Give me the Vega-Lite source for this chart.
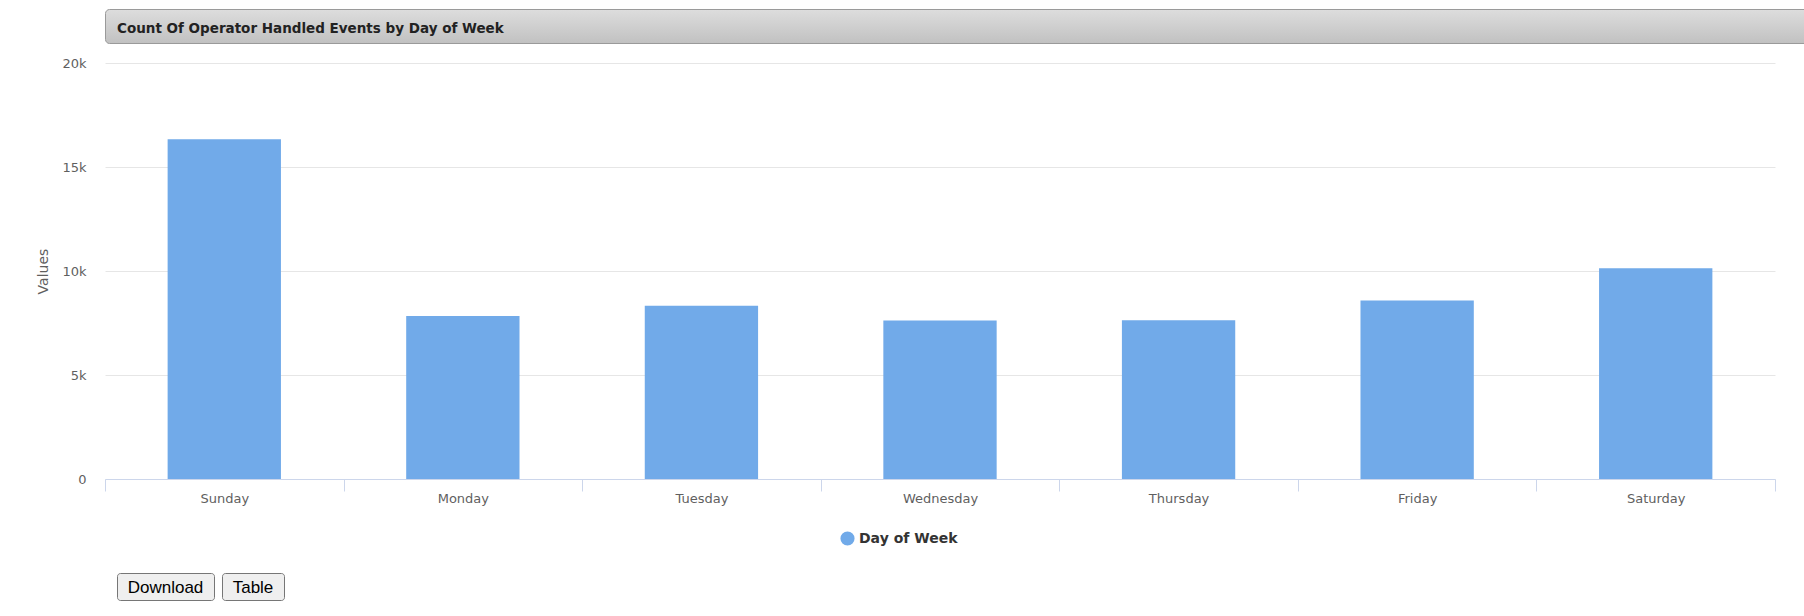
{
  "$schema": "https://vega.github.io/schema/vega-lite/v6.json",
  "padding": {"left": 7, "top": 8, "right": 8, "bottom": 16},
  "background": "white",
  "config": {"font": "DejaVu Sans", "view": {"stroke": null}},
  "spacing": 13,
  "resolve": {"legend": {"color": "independent"}},
  "vconcat": [
    {
      "width": 1789,
      "height": 34,
      "view": {
        "fill": {
          "gradient": "linear", "x1": 0, "y1": 0, "x2": 0, "y2": 1,
          "stops": [
            {"offset": 0, "color": "#dddddd"},
            {"offset": 1, "color": "#c1c1c1"}
          ]
        },
        "stroke": "#9a9a9a",
        "strokeWidth": 1,
        "cornerRadius": 4
      },
      "title": {
        "text": "Count Of Operator Handled Events by Day of Week",
        "anchor": "start",
        "frame": "group",
        "dx": 12,
        "offset": -33,
        "baseline": "middle",
        "fontSize": 13.5,
        "fontWeight": "bold",
        "color": "#222222"
      },
      "data": {"values": [{"k": 1}]},
      "mark": {"type": "point", "opacity": 0},
      "encoding": {}
    },
    {
      "resolve": {"legend": {"color": "independent"}},
      "hconcat": [
        {
          "width": 1670,
          "height": 416,
          "data": {
            "values": [
              {"day": "Sunday", "value": 16330, "series": "Day of Week"},
              {"day": "Monday", "value": 7840, "series": "Day of Week"},
              {"day": "Tuesday", "value": 8330, "series": "Day of Week"},
              {"day": "Wednesday", "value": 7620, "series": "Day of Week"},
              {"day": "Thursday", "value": 7630, "series": "Day of Week"},
              {"day": "Friday", "value": 8580, "series": "Day of Week"},
              {"day": "Saturday", "value": 10130, "series": "Day of Week"}
            ]
          },
          "mark": {"type": "bar", "width": {"band": 0.475}},
          "encoding": {
            "x": {
              "field": "day",
              "type": "nominal",
              "sort": null,
              "scale": {"paddingInner": 0, "paddingOuter": 0},
              "axis": {
                "title": ".",
                "titleX": -98,
                "titleY": 4,
                "titleAlign": "left",
                "titleBaseline": "top",
                "titleAngle": 0,
                "titleFontSize": 9,
                "titleColor": "#ffffff",
                "labelAngle": 0,
                "tickBand": "extent",
                "domainColor": "#ccd6eb",
                "tickColor": "#ccd6eb",
                "tickSize": 12,
                "labelFontSize": 13,
                "labelColor": "#5f5f5f",
                "labelPadding": 1,
                "grid": false
              }
            },
            "y": {
              "field": "value",
              "type": "quantitative",
              "scale": {"domain": [0, 20000]},
              "axis": {
                "title": "Values",
                "titleX": -62,
                "titleY": 208,
                "titleAngle": -90,
                "titleAlign": "center",
                "titleBaseline": "middle",
                "values": [0, 5000, 10000, 15000, 20000],
                "labelExpr": "datum.value == 0 ? '0' : (datum.value / 1000) + 'k'",
                "domain": false,
                "ticks": false,
                "gridColor": "#e6e6e6",
                "labelFontSize": 13,
                "labelColor": "#5f5f5f",
                "labelPadding": 19,
                "titleFontSize": 14,
                "titleFontWeight": "normal",
                "titleColor": "#5f5f5f"
              }
            },
            "color": {
              "field": "series",
              "type": "nominal",
              "scale": {"range": ["#71aae9"]},
              "legend": {
                "orient": "none",
                "legendX": 722,
                "legendY": 455,
                "padding": 13,
                "direction": "horizontal",
                "title": null,
                "symbolType": "circle",
                "symbolSize": 200,
                "symbolStrokeWidth": 0,
                "labelFontSize": 14,
                "labelFontWeight": "bold",
                "labelColor": "#333333"
              }
            }
          }
        }
      ]
    },
    {
      "spacing": 6,
      "hconcat": [
        {
          "width": 4,
          "height": 27,
          "data": {"values": [{"k": 1}]},
          "mark": {"type": "point", "opacity": 0},
          "encoding": {}
        },
        {
          "width": 97,
          "height": 27,
          "view": {"fill": "#efefef", "stroke": "#767676", "strokeWidth": 1, "cornerRadius": 3},
          "title": {
            "text": "Download",
            "anchor": "middle",
            "frame": "group",
            "offset": -32,
            "baseline": "middle",
            "font": "Liberation Sans",
            "fontSize": 17,
            "fontWeight": "normal",
            "color": "#000000"
          },
          "data": {"values": [{"k": 1}]},
          "mark": {"type": "point", "opacity": 0},
          "encoding": {}
        },
        {
          "width": 62,
          "height": 27,
          "view": {"fill": "#efefef", "stroke": "#767676", "strokeWidth": 1, "cornerRadius": 3},
          "title": {
            "text": "Table",
            "anchor": "middle",
            "frame": "group",
            "offset": -32,
            "baseline": "middle",
            "font": "Liberation Sans",
            "fontSize": 17,
            "fontWeight": "normal",
            "color": "#000000"
          },
          "data": {"values": [{"k": 1}]},
          "mark": {"type": "point", "opacity": 0},
          "encoding": {}
        }
      ]
    }
  ]
}
